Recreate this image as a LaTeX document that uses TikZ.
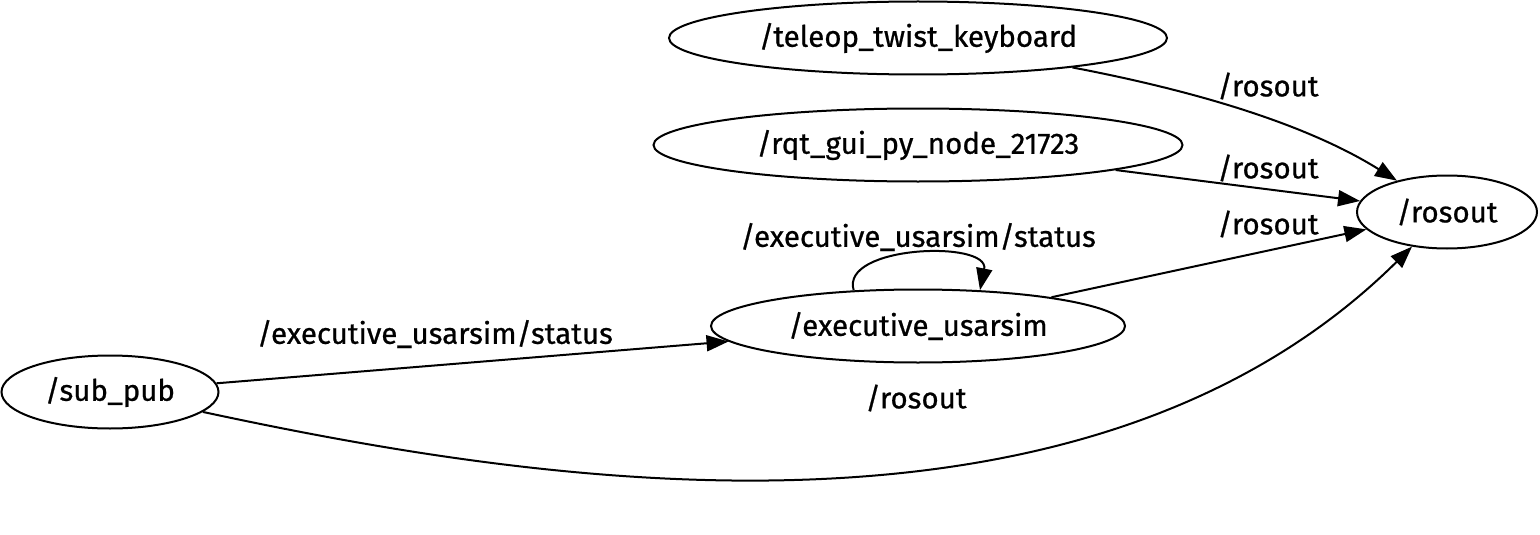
\documentclass[tikz,border=0pt]{standalone}
\usepackage{fontspec}
\setmainfont{Fira Sans}[FakeBold=0.7]
\usetikzlibrary{shapes.geometric,arrows.meta}
\tikzset{
  rosnode/.style={draw,ellipse,line width=2pt,inner sep=0pt},
  topic/.style={font=\fontsize{29.5}{34}\selectfont},
  pub/.style={line width=2pt,-{Triangle[length=22pt,width=16pt]}}
}
\begin{document}
\begin{tikzpicture}[x=1pt,y=-1pt,topic]
  \useasboundingbox (0,0) rectangle (1540,535);
  % Nodes
  \node[rosnode,minimum width=498pt,minimum height=73pt] (teleop) at (918,38) {/teleop\_twist\_keyboard};
  \node[rosnode,minimum width=529pt,minimum height=73pt] (rqt) at (918,145) {/rqt\_gui\_py\_node\_21723};
  \node[rosnode,minimum width=180pt,minimum height=73pt] (rosout) at (1447,212) {/rosout};
  \node[rosnode,minimum width=414pt,minimum height=73pt] (exec) at (918,326) {/executive\_usarsim};
  \node[rosnode,minimum width=217pt,minimum height=73pt] (sub) at (110,392) {/sub\_pub};
  % Edges
  \draw[pub] (teleop) .. controls (1180,88) and (1300,120) .. (rosout);
  \node (l1) at (1268,86) {/rosout};
  \draw[pub] (rqt) -- (rosout);
  \node (l2) at (1268,168) {/rosout};
  \draw[pub] (exec) -- (rosout);
  \node (l3) at (1268,224) {/rosout};
  \draw[pub] (exec.151) .. controls (840,245) and (990,240) .. (exec.30);
  \node (l4) at (918,237) {/executive\_usarsim/status};
  \draw[pub] (sub) -- (exec);
  \node (l5) at (435,334) {/executive\_usarsim/status};
  \draw[pub] (sub) .. controls (520,480) and (1080,575) .. (rosout);
  \node (l6) at (916,398) {/rosout};
\end{tikzpicture}
\end{document}
